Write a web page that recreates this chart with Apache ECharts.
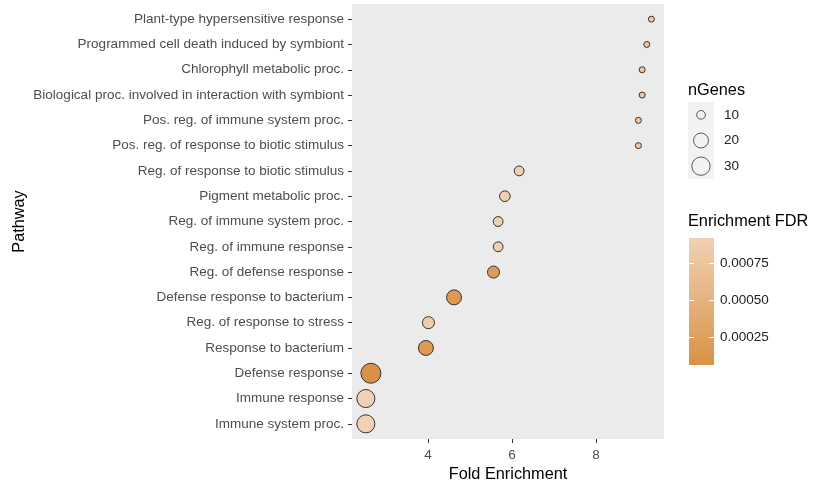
<!DOCTYPE html>
<html>
<head>
<meta charset="utf-8">
<script src="https://cdn.jsdelivr.net/npm/echarts@6/dist/echarts.min.js"></script>
<style>
  html, body { margin: 0; padding: 0; background: #fff; }
  #chart { width: 824px; height: 488px; }
</style>
</head>
<body>
<div id="chart"></div>
<script>
// GO pathways, listed top to bottom
const pathways = [
  'Plant-type hypersensitive response',
  'Programmed cell death induced by symbiont',
  'Chlorophyll metabolic proc.',
  'Biological proc. involved in interaction with symbiont',
  'Pos. reg. of immune system proc.',
  'Pos. reg. of response to biotic stimulus',
  'Reg. of response to biotic stimulus',
  'Pigment metabolic proc.',
  'Reg. of immune system proc.',
  'Reg. of immune response',
  'Reg. of defense response',
  'Defense response to bacterium',
  'Reg. of response to stress',
  'Response to bacterium',
  'Defense response',
  'Immune response',
  'Immune system proc.'
];
const foldEnrichment = [9.32, 9.21, 9.10, 9.10, 9.01, 9.01, 6.17, 5.83, 5.67, 5.67, 5.56, 4.62, 4.01, 3.95, 2.64, 2.52, 2.52];
const nGenes = [9, 9, 9, 9, 9, 9, 11, 12, 11, 11, 14, 20, 14, 20, 36, 29, 29];
const fdr = [0.00080, 0.00080, 0.00080, 0.00080, 0.00080, 0.00080, 0.00088, 0.00088, 0.00088, 0.00088, 0.00020, 0.00015, 0.00085, 0.00017, 0.00006, 0.00092, 0.00092];

// legend values
const sizeBreaks = [10, 20, 30];
const fdrBreaks = [0.00025, 0.00050, 0.00075];

const xTicks = [4, 6, 8];
const xRange = [2.19, 9.62];
const fdrRange = [0.000059, 0.00092];
const genesRange = [9, 36];

const colLow = '#D99245';
const colHigh = '#F1D1B5';
const FONT = 'Liberation Sans, Arial, sans-serif';
const AXIS_TXT = 13.5;
const TITLE_TXT = 16.3;

// area-style size scale: diameter grows with sqrt of the rescaled gene count
function dotSize(n) {
  const t = Math.max(0, (n - genesRange[0]) / (genesRange[1] - genesRange[0]));
  return 6 + 14 * Math.sqrt(t);
}

const points = pathways.map((p, i) => [foldEnrichment[i], i, nGenes[i], fdr[i]]);
const idx = pathways.map((_, i) => i);

const chart = echarts.init(document.getElementById('chart'), null, { renderer: 'canvas' });

chart.setOption({
  animation: false,
  textStyle: { fontFamily: FONT },
  title: [
    { text: 'nGenes', left: 688, top: 83, padding: 0, textStyle: { fontSize: TITLE_TXT, fontWeight: 'normal', color: '#000', fontFamily: FONT } },
    { text: 'Enrichment FDR', left: 688, top: 214, padding: 0, textStyle: { fontSize: TITLE_TXT, fontWeight: 'normal', color: '#000', fontFamily: FONT } }
  ],
  grid: [
    // main panel
    { left: 352, top: 4, width: 312, height: 435, show: true, backgroundColor: '#EBEBEB', borderWidth: 0 },
    // size legend keys
    { left: 688, top: 102, width: 26, height: 77, show: true, backgroundColor: '#F2F2F2', borderWidth: 0 },
    // colour bar
    {
      left: 689, top: 238, width: 25, height: 127, show: true, borderWidth: 0,
      backgroundColor: new echarts.graphic.LinearGradient(0, 0, 0, 1, [
        { offset: 0, color: colHigh }, { offset: 1, color: colLow }
      ])
    }
  ],
  xAxis: [
    {
      gridIndex: 0, type: 'value', min: xRange[0], max: xRange[1],
      splitLine: { show: false },
      axisLine: { show: false, onZero: false },
      axisTick: { show: true, customValues: xTicks, length: 4, lineStyle: { color: '#333', width: 1 } },
      axisLabel: { customValues: xTicks, color: '#4D4D4D', fontSize: AXIS_TXT, margin: 9, fontFamily: FONT },
      name: 'Fold Enrichment', nameLocation: 'middle', nameGap: 19,
      nameTextStyle: { fontSize: TITLE_TXT, color: '#000', fontFamily: FONT }
    },
    { gridIndex: 1, type: 'value', min: -1, max: 1, show: false },
    { gridIndex: 2, type: 'value', min: 0, max: 1, show: false }
  ],
  yAxis: [
    {
      gridIndex: 0, type: 'value', min: -0.6, max: pathways.length - 0.4, inverse: true,
      splitLine: { show: false },
      axisLine: { show: false, onZero: false },
      axisTick: { show: true, customValues: idx, length: 4, lineStyle: { color: '#333', width: 1 } },
      axisLabel: {
        customValues: idx, color: '#4D4D4D', fontSize: AXIS_TXT, margin: 8, fontFamily: FONT,
        formatter: v => pathways[Math.round(v)]
      },
      name: 'Pathway', nameLocation: 'middle', nameGap: 324, nameRotate: 90,
      nameTextStyle: { fontSize: TITLE_TXT, color: '#000', fontFamily: FONT }
    },
    {
      gridIndex: 1, type: 'category', data: sizeBreaks.map(String), inverse: true, position: 'right',
      axisLine: { show: false }, axisTick: { show: false },
      axisLabel: { color: '#222', fontSize: AXIS_TXT, margin: 10, fontFamily: FONT }
    },
    {
      // colour bar labels
      gridIndex: 2, type: 'value', min: fdrRange[0], max: fdrRange[1], position: 'right',
      splitLine: { show: false }, axisLine: { show: false, onZero: false },
      axisTick: { show: false },
      axisLabel: { customValues: fdrBreaks, color: '#222', fontSize: AXIS_TXT, margin: 6, fontFamily: FONT,
        formatter: v => v.toFixed(5) }
    }
  ],
  visualMap: {
    show: false, type: 'continuous', seriesIndex: 0, dimension: 3,
    min: fdrRange[0], max: fdrRange[1],
    inRange: { color: [colLow, colHigh] }
  },
  series: [
    {
      type: 'scatter', xAxisIndex: 0, yAxisIndex: 0,
      data: points,
      symbol: 'circle',
      symbolSize: d => dotSize(d[2]),
      itemStyle: { borderColor: '#333', borderWidth: 1, opacity: 1 },
      emphasis: { disabled: true }
    },
    {
      type: 'scatter', xAxisIndex: 1, yAxisIndex: 1,
      data: sizeBreaks.map((n, i) => [0, i, n]),
      symbol: 'circle',
      symbolSize: d => dotSize(d[2]),
      itemStyle: { color: 'rgba(0,0,0,0)', borderColor: '#333', borderWidth: 1 },
      emphasis: { disabled: true }
    },
    {
      // white tick marks on both edges of the colour bar
      type: 'custom', xAxisIndex: 2, yAxisIndex: 2,
      data: fdrBreaks.map(v => [0, v]),
      silent: true,
      renderItem: (params, api) => {
        const l = api.coord([0, api.value(1)]);
        const r = api.coord([1, api.value(1)]);
        const y = Math.round(l[1]) + 0.5;
        const style = { stroke: '#fff', lineWidth: 1 };
        return {
          type: 'group',
          children: [
            { type: 'line', shape: { x1: l[0], y1: y, x2: l[0] + 5, y2: y }, style },
            { type: 'line', shape: { x1: r[0] - 5, y1: y, x2: r[0], y2: y }, style }
          ]
        };
      }
    }
  ]
});
</script>
</body>
</html>
